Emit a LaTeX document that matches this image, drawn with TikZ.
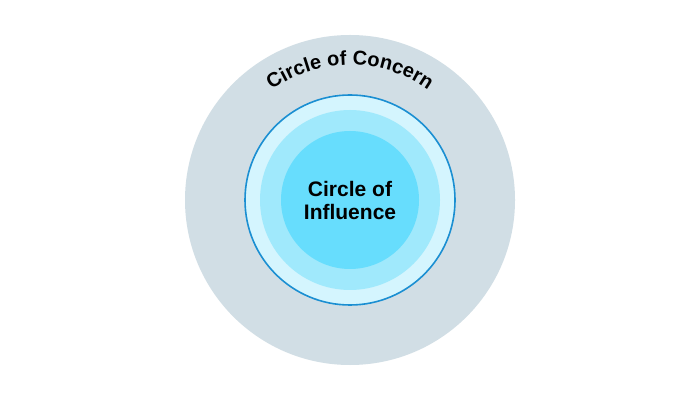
\documentclass[tikz,border=0pt]{standalone}
\usepackage{fontspec}
\setmainfont{Liberation Sans}
\usetikzlibrary{decorations.text}
\definecolor{concern}{HTML}{D1DEE5}
\definecolor{ringA}{HTML}{D4F5FE}
\definecolor{ringB}{HTML}{A0E9FC}
\definecolor{ringC}{HTML}{67DDFD}
\definecolor{strokeblue}{HTML}{1B8FD2}
\tikzset{disc/.style={circle, inner sep=0pt, minimum size=#1}}
\begin{document}
\begin{tikzpicture}[x=1pt,y=1pt]
\useasboundingbox (0,0) rectangle (700,401);
\fill[white] (0,0) rectangle (700,401);
\node[disc=330pt, fill=concern] (outer) at (350,201) {};
\node[disc=210pt, fill=ringA, draw=strokeblue, line width=1.6pt] (ringa) at (350,201) {};
\node[disc=180pt, fill=ringB] (ringb) at (350,201) {};
\node[disc=138pt, fill=ringC] (ringc) at (350,201) {};
\node[font=\bfseries\fontsize{21}{23}\selectfont, align=center] (influence) at (350,201) {Circle of\\Influence};
\path[decorate, decoration={text along path, text align=center,
  text={|\bfseries\fontsize{20}{22}\selectfont|Circle of Concern}}]
  (outer.center) ++(150:135pt) arc[start angle=150, end angle=30, radius=135pt];
\end{tikzpicture}
\end{document}
